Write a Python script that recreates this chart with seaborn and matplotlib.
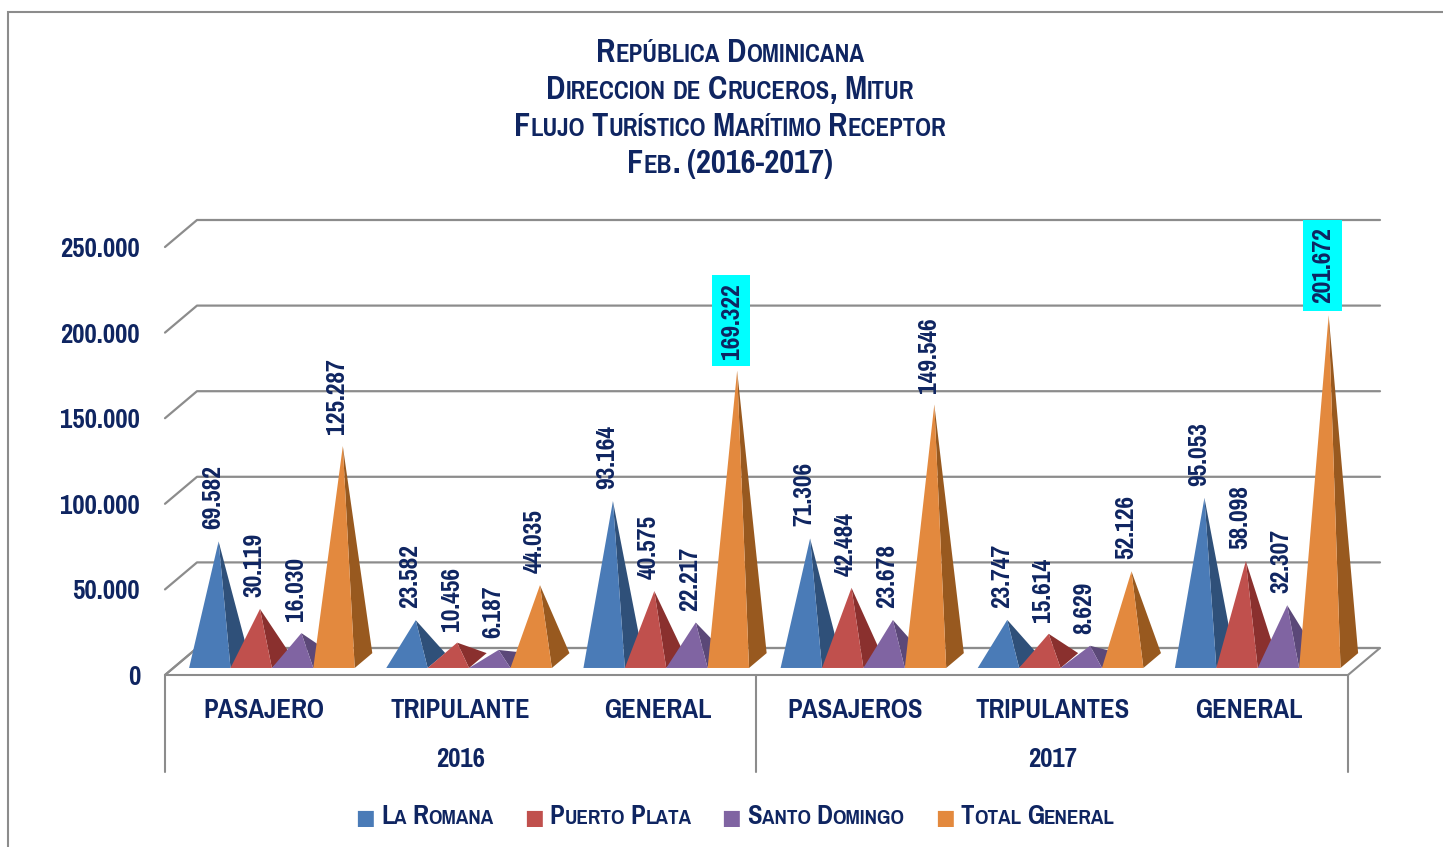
import numpy as np
import pandas as pd
import seaborn as sns
import matplotlib.pyplot as plt
from matplotlib.patches import Polygon, Rectangle
from matplotlib.transforms import blended_transform_factory

# datos
categorias = ['PASAJERO', 'TRIPULANTE', 'GENERAL', 'PASAJEROS', 'TRIPULANTES', 'GENERAL']
anios = ['2016', '2017']
series = ['La Romana', 'Puerto Plata', 'Santo Domingo', 'Total General']
la_romana = [69582, 23582, 93164, 71306, 23747, 95053]
puerto_plata = [30119, 10456, 40575, 42484, 15614, 58098]
santo_domingo = [16030, 6187, 22217, 23678, 8629, 32307]
total_general = [125287, 44035, 169322, 149546, 52126, 201672]
resaltados = [169322, 201672]
yticks = [0, 50000, 100000, 150000, 200000, 250000]
titulo = ['República Dominicana', 'Direccion de Cruceros, Mitur',
          'Flujo Turístico Marítimo Receptor', 'Feb. (2016-2017)']

colores = ['#4A7BB7', '#C0504D', '#8064A2', '#E3893E']
oscuros = ['#2F5079', '#8A302E', '#5B4878', '#98591F']
NAVY = '#0F2561'
GRIS = '#8C8C8C'

df = pd.DataFrame({'categoria': categorias, 'La Romana': la_romana, 'Puerto Plata': puerto_plata,
                   'Santo Domingo': santo_domingo, 'Total General': total_general})

sns.set_theme(style='white')
plt.rcParams['font.family'] = ['Pragati Narrow', 'Roboto Condensed', 'DejaVu Sans']
plt.rcParams['font.weight'] = 'bold'

W, H = 1443, 847
fig = plt.figure(figsize=(W / 100, H / 100), dpi=100)
fig.patch.set_facecolor('white')
ax = fig.add_axes([165 / W, 172 / H, 1183 / W, 428 / H])
ax.set_xlim(0, 6)
ax.set_ylim(0, 250000)
ax.patch.set_alpha(0)
sns.despine(ax=ax, left=True, bottom=True)


def fmt(v):
    return f'{v:,}'.replace(',', '.')


# profundidad (pseudo 3d)
DX = 32 / 1183 * 6
DY = 27 / 428 * 250000
d0, dm, d1 = 0.26, 0.535, 0.81

# piso y rejilla
ax.add_patch(Polygon([(0, 0), (6, 0), (6 + DX, DY), (DX, DY)], closed=True, fc='white',
                     ec=GRIS, lw=1.5, clip_on=False, zorder=1))
for v in yticks:
    ax.plot([0, DX, 6 + DX], [v, v + DY, v + DY], color=GRIS, lw=1.6, clip_on=False, zorder=1)

# piramides
margen = 0.08
w = (1 - 2 * margen) / len(series)
for i, fila in df.iterrows():
    for j, s in enumerate(series):
        v = fila[s]
        xl = i + margen + j * w
        xr = xl + w
        xc = xl + w / 2
        apex = (xc + dm * DX, v + dm * DY)
        z = 2 + 0.01 * (i * 4 + j)
        lado = [(xr + d0 * DX, d0 * DY), (xr + d1 * DX, d1 * DY), apex]
        frente = [(xl + d0 * DX, d0 * DY), (xr + d0 * DX, d0 * DY), apex]
        ax.add_patch(Polygon(lado, closed=True, fc=oscuros[j], ec='none', clip_on=False, zorder=z))
        ax.add_patch(Polygon(frente, closed=True, fc=colores[j], ec='none', clip_on=False, zorder=z))
        caja = dict(boxstyle='square,pad=0.28', fc='#00FFFF', ec='none') if v in resaltados else None
        ax.annotate(fmt(v), xy=apex, xytext=(-6, 12), textcoords='offset pixels', rotation=90,
                    ha='center', va='bottom', fontsize=20, color=NAVY, bbox=caja,
                    annotation_clip=False, zorder=10)

# ejes
ax.set_yticks(yticks, [fmt(v) for v in yticks])
ax.tick_params(axis='y', length=0, pad=18, labelsize=21, labelcolor=NAVY)
ax.set_xticks([])
trans = blended_transform_factory(ax.transData, fig.transFigure)
for i, c in enumerate(categorias):
    ax.text(i + 0.5, 1 - 718 / H, c, transform=trans, ha='center', va='baseline',
            fontsize=21, color=NAVY)
for k, a in enumerate(anios):
    ax.text(3 * k + 1.5, 1 - 767 / H, a, transform=trans, ha='center', va='baseline',
            fontsize=21, color=NAVY)
for xs in [0, 3, 6]:
    ax.plot([xs, xs], [1 - 675 / H, 1 - 772 / H], transform=trans, color=GRIS, lw=1.5, clip_on=False)

# marco
fig.add_artist(Rectangle((8 / W, -0.1), 2, 1.1 - 12 / H, transform=fig.transFigure,
                         fill=False, ec=GRIS, lw=1.5))


# versalitas
def versalitas(texto, grande, chica, color):
    out = []
    for k, palabra in enumerate(texto.split(' ')):
        gap = 0.2 * grande * 100 / 72 if k else 0
        runs = []
        for ch in palabra:
            sm = ch.islower()
            if runs and runs[-1][1] == sm:
                runs[-1][0] += ch
            else:
                runs.append([ch, sm])
        for m, (t, sm) in enumerate(runs):
            out.append((t.upper(), chica if sm else grande, color, gap if m == 0 else 0, None))
    return out


cadenas = []


def cadena(piezas, cx, base_y):
    yf = 1 - base_y / H
    arts = []
    prev = None
    for txt, size, col, gap, fam in piezas:
        kw = dict(fontsize=size, color=col, ha='left', va='baseline')
        if fam:
            kw['family'] = fam
        if prev is None:
            t = fig.text(0, yf, txt, **kw)
        else:
            t = ax.annotate(txt, xy=(1, yf), xycoords=(prev, 'figure fraction'), xytext=(gap, 0),
                            textcoords='offset pixels', annotation_clip=False, **kw)
        arts.append(t)
        prev = t
    cadenas.append((arts, cx))


for n, linea in enumerate(titulo):
    cadena(versalitas(linea, 25.5, 19.5, NAVY), 730, 62 + 37 * n)

ley = []
for j, s in enumerate(series):
    ley.append(('■', 15, colores[j], 30 if j else 0, 'DejaVu Sans'))
    p = versalitas(s, 21, 16.5, NAVY)
    p[0] = (p[0][0], p[0][1], p[0][2], 6, None)
    ley += p
cadena(ley, 735, 824)

fig.canvas.draw()
r = fig.canvas.get_renderer()
for arts, cx in cadenas:
    x0 = arts[0].get_window_extent(r).x0
    x1 = arts[-1].get_window_extent(r).x1
    arts[0].set_x((cx - (x1 - x0) / 2) / W)

fig.savefig('out.png', dpi=100)
